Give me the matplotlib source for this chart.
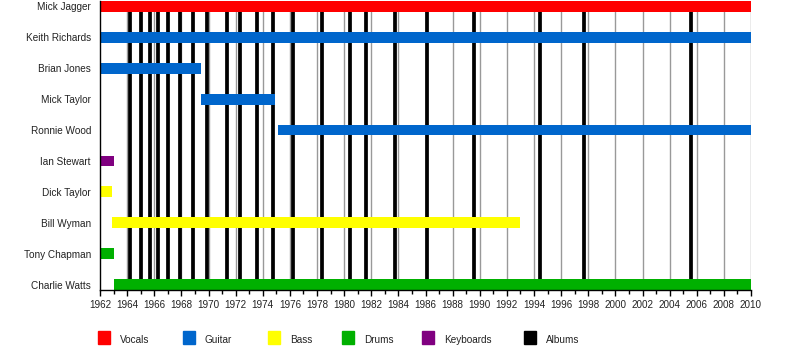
import matplotlib
matplotlib.use("Agg")
import matplotlib.pyplot as plt
from matplotlib.patches import Rectangle

plt.rcParams['font.family'] = ['Liberation Sans', 'DejaVu Sans']

# Band members, top to bottom
members = ["Mick Jagger", "Keith Richards", "Brian Jones", "Mick Taylor", "Ronnie Wood",
           "Ian Stewart", "Dick Taylor", "Bill Wyman", "Tony Chapman", "Charlie Watts"]
roles = ["Vocals", "Guitar", "Guitar", "Guitar", "Guitar",
         "Keyboards", "Bass", "Bass", "Drums", "Drums"]
starts = [1962.0, 1962.0, 1962.0, 1969.45, 1975.12, 1962.0, 1962.0, 1962.88, 1962.0, 1963.0]
ends = [2010.0, 2010.0, 1969.48, 1974.9, 2010.0, 1963.03, 1962.88, 1992.95, 1963.03, 2010.0]

# Studio album release dates
albums = [1964.23, 1965.05, 1965.71, 1966.30, 1967.04, 1967.92, 1968.86, 1969.91,
          1971.36, 1972.34, 1973.58, 1974.78, 1976.23, 1978.39, 1980.46, 1981.63,
          1983.77, 1986.13, 1989.60, 1994.47, 1997.71, 2005.60]

legend_labels = ["Vocals", "Guitar", "Bass", "Drums", "Keyboards", "Albums"]
role_colors = {"Vocals": "#FF0000", "Guitar": "#0066CC", "Bass": "#FFFF00",
               "Drums": "#00B000", "Keyboards": "#800080", "Albums": "#000000"}

fig = plt.figure(figsize=(8, 3.5), dpi=100)
ax = fig.add_axes([100 / 800, 60 / 350, 651 / 800, 289 / 350])

bar_h = 0.35
ax.set_xlim(1962, 2010)
ax.set_ylim(len(members) - 1 + bar_h / 2, -bar_h / 2)

# Grey gridlines every two years
for yr in range(1964, 2011, 2):
    ax.axvline(yr, color="#999999", lw=1.0, zorder=1)

# Album release markers
for a in albums:
    ax.axvline(a, color="black", lw=2.7, zorder=2)

# Membership bars
for i, (s, e, r) in enumerate(zip(starts, ends, roles)):
    ax.barh(i, e - s, left=s, height=bar_h, color=role_colors[r], lw=0, zorder=3)

ax.set_yticks(range(len(members)))
ax.set_yticklabels(members, fontsize=7.2, color="#222222")
ax.tick_params(axis="y", length=0, pad=6.5)

ax.set_xticks(range(1962, 2011, 2))
ax.set_xticks(range(1962, 2011), minor=True)
ax.tick_params(axis="x", which="major", direction="out", length=4, width=1,
               labelsize=7.1, pad=3.5, labelcolor="#222222")
ax.tick_params(axis="x", which="minor", direction="out", length=3, width=1)

for side in ("top", "right"):
    ax.spines[side].set_visible(False)
for side in ("left", "bottom"):
    ax.spines[side].set_color("black")
    ax.spines[side].set_linewidth(1.0)
    ax.spines[side].set_zorder(4)

# Legend row along the bottom
square_x = [98, 183, 268, 342, 422, 524]
for x, lab in zip(square_x, legend_labels):
    fig.patches.append(Rectangle((x / 800, (350 - 344) / 350), 12 / 800, 13 / 350,
                                 transform=fig.transFigure, color=role_colors[lab]))
    fig.text((x + 22) / 800, (350 - 340) / 350, lab, fontsize=7.2,
             va="center", ha="left", color="#222222")

fig.savefig("out.png", dpi=100)
